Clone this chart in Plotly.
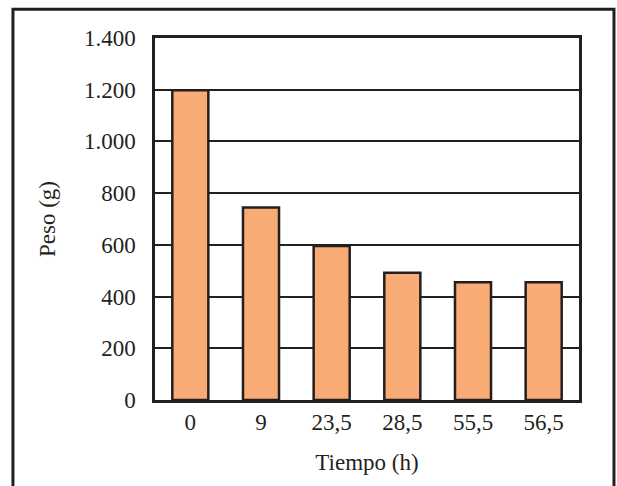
import plotly.graph_objects as go

categories = ["0", "9", "23,5", "28,5", "55,5", "56,5"]
peso = [1198, 744, 596, 492, 455, 455]
y_ticks = [0, 200, 400, 600, 800, 1000, 1200, 1400]

INK = "#231f20"
FONT = dict(family="Times New Roman, Liberation Serif, serif", size=23, color=INK)

fig = go.Figure()
fig.add_trace(go.Bar(
    x=categories, y=peso,
    marker=dict(color="#F9AB75", line=dict(color=INK, width=2.5)),
))

fig.update_layout(
    width=617, height=486,
    margin=dict(l=155, r=38, t=38, b=86),
    paper_bgcolor="white", plot_bgcolor="white",
    separators=",.",
    bargap=0.49,
    showlegend=False,
    font=FONT,
    xaxis=dict(
        type="category",
        showline=True, linecolor=INK, linewidth=2.5, mirror=True,
        showgrid=False, ticks="", tickfont=FONT,
        title=dict(text="Tiempo (h)", font=FONT, standoff=20),
    ),
    yaxis=dict(
        range=[0, 1400], tickvals=y_ticks, tickformat=",d",
        showline=True, linecolor=INK, linewidth=2.5, mirror=True,
        showgrid=True, gridcolor=INK, gridwidth=2,
        zeroline=False, ticks="", tickfont=FONT, ticklabelstandoff=12,
        title=dict(text="Peso (g)", font=FONT, standoff=22),
    ),
    shapes=[dict(
        type="rect", xref="paper", yref="paper",
        x0=-0.335, x1=1.0825, y0=-0.4, y1=1.0797,
        line=dict(color=INK, width=3), fillcolor="rgba(0,0,0,0)",
        layer="above",
    )],
)

fig.write_html("out.html")
